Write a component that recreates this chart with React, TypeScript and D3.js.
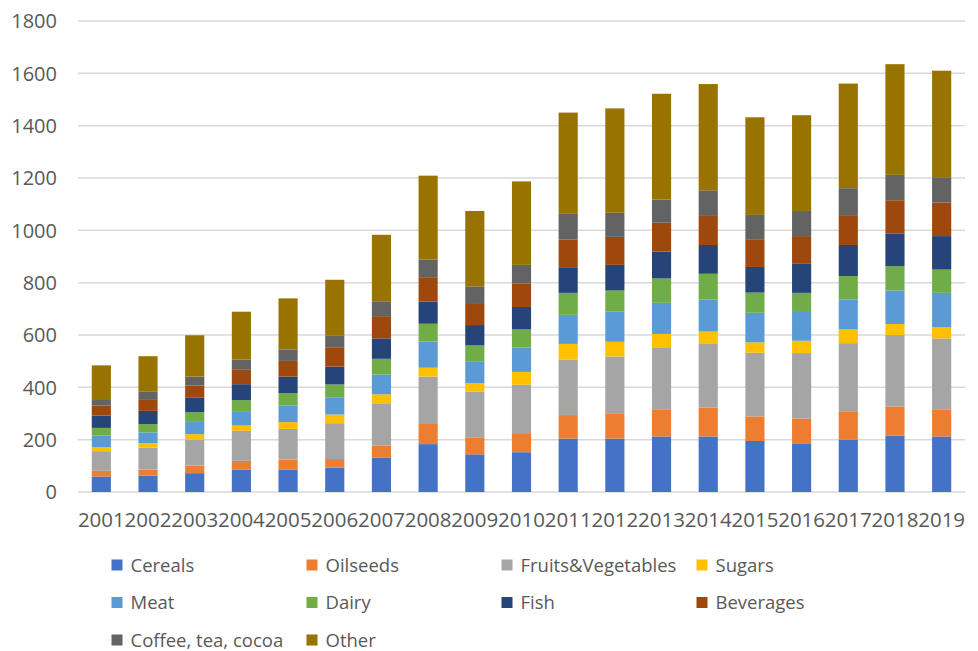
import * as React from "react"
import * as d3 from "d3"

const years = ["2001", "2002", "2003", "2004", "2005", "2006", "2007", "2008", "2009", "2010",
    "2011", "2012", "2013", "2014", "2015", "2016", "2017", "2018", "2019"]

const seriesNames = ["Cereals", "Oilseeds", "Fruits&Vegetables", "Sugars", "Meat",
    "Dairy", "Fish", "Beverages", "Coffee, tea, cocoa", "Other"]

const cereals = [59, 63, 72, 86, 86, 93, 132, 183, 144, 152, 204, 204, 212, 212, 195, 186, 199, 216, 212]
const oilseeds = [22, 23, 29, 33, 38, 33, 46, 77, 65, 73, 90, 97, 102, 111, 94, 95, 107, 111, 102]
const fruitsVeg = [75, 83, 98, 115, 117, 137, 161, 181, 174, 185, 212, 217, 239, 243, 243, 250, 263, 273, 273]
const sugars = [16, 18, 22, 20, 26, 33, 34, 34, 33, 49, 60, 56, 51, 47, 40, 47, 52, 42, 42]
const meat = [44, 41, 50, 55, 64, 64, 76, 100, 84, 93, 111, 115, 119, 122, 113, 110, 114, 128, 132]
const dairy = [29, 31, 34, 42, 47, 51, 60, 68, 60, 69, 84, 81, 93, 99, 77, 73, 90, 93, 89]
const fish = [47, 51, 55, 61, 63, 68, 78, 85, 78, 86, 98, 98, 103, 110, 98, 111, 119, 124, 128]
const beverages = [39, 42, 47, 55, 60, 72, 85, 93, 84, 89, 106, 107, 110, 111, 106, 106, 114, 128, 128]
const coffee = [24, 31, 34, 39, 44, 48, 57, 68, 64, 72, 98, 92, 89, 98, 93, 96, 103, 97, 97]
const other = [129, 136, 158, 183, 195, 212, 254, 320, 288, 319, 387, 399, 404, 406, 373, 366, 400, 423, 407]

const yTicks = [0, 200, 400, 600, 800, 1000, 1200, 1400, 1600, 1800]

const colors = ["#4472C4", "#ED7D31", "#A5A5A5", "#FFC000", "#5B9BD5",
    "#70AD47", "#264478", "#9E480E", "#636363", "#997300"]

const allSeries = [cereals, oilseeds, fruitsVeg, sugars, meat, dairy, fish, beverages, coffee, other]

export default function App() {
    const width = 978
    const height = 651
    const left = 78
    const right = 965
    const top = 21
    const bottom = 492

    const rows = years.map((year, i) => {
        const row: any = { year }
        seriesNames.forEach((name, s) => { row[name] = allSeries[s][i] })
        return row
    })
    const stacked = d3.stack().keys(seriesNames)(rows)

    const x = d3.scaleBand().domain(years).range([left, right]).paddingInner(0.59).paddingOuter(0.295)
    const y = d3.scaleLinear().domain([0, 1800]).range([bottom, top])

    const textColor = "#595959"
    const font = "'Open Sans', sans-serif"

    return (
        <svg width={width} height={height} style={{ position: "absolute", left: 0, top: 0 }}>
            <rect width={width} height={height} fill="#fff" />
            {yTicks.map((t) => (
                <g key={t}>
                    <line x1={left} x2={right} y1={y(t)} y2={y(t)} stroke="#D9D9D9" strokeWidth={1.5} />
                    <text x={57} y={y(t)} dy="0.36em" textAnchor="end" fontFamily={font} fontSize={20} fill={textColor}>{t}</text>
                </g>
            ))}
            {stacked.map((layer, s) => (
                <g key={layer.key} fill={colors[s]}>
                    {layer.map((d, i) => (
                        <rect key={i} x={x(years[i])} width={x.bandwidth()} y={y(d[1])} height={y(d[0]) - y(d[1])} />
                    ))}
                </g>
            ))}
            {years.map((yr) => (
                <text key={yr} x={(x(yr) as number) + x.bandwidth() / 2} y={520} dy="0.36em" textAnchor="middle"
                    fontFamily={font} fontSize={20.5} fill={textColor}>{yr}</text>
            ))}
            {seriesNames.map((name, s) => {
                const col = s % 4
                const row = Math.floor(s / 4)
                const lx = 111.5 + col * 195
                const ly = 565 + row * 37.5
                return (
                    <g key={name}>
                        <rect x={lx} y={ly - 5.5} width={11} height={11} fill={colors[s]} />
                        <text x={lx + 19} y={ly} dy="0.36em" fontFamily={font} fontSize={18.5} fill={textColor}>{name}</text>
                    </g>
                )
            })}
        </svg>
    )
}
